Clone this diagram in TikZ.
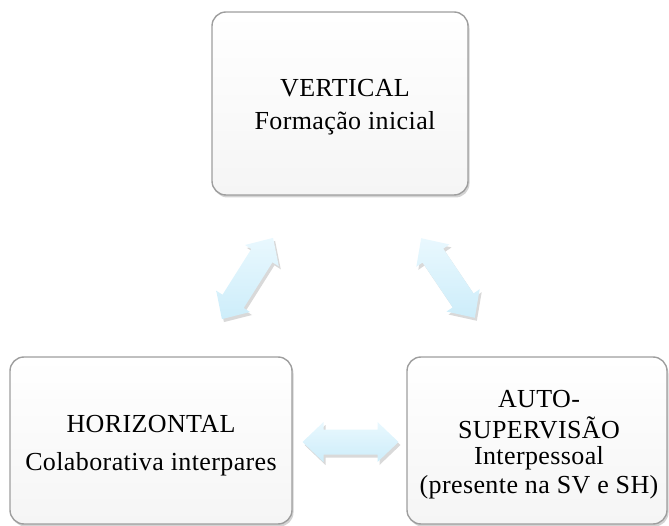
\documentclass[tikz,border=0pt]{standalone}
\usepackage{fontspec}
\setmainfont[LetterSpace=1.5]{Liberation Serif}
\usetikzlibrary{shadows}
\definecolor{boxgray}{HTML}{9E9E9E}
\definecolor{boxfill}{HTML}{F5F5F5}
\definecolor{arrtop}{HTML}{E9F8FE}
\definecolor{arrbot}{HTML}{CDEDFA}
\newcommand{\fatarrow}[3]{%
  \begin{scope}[shift={(#1)}, rotate=#2]
    \coordinate (#3) at (0,0);
    \path[fat] (-48,0) -- (-27,20) -- (-27,12.5) -- (27,12.5) -- (27,20) -- (48,0)
      -- (27,-20) -- (27,-12.5) -- (-27,-12.5) -- (-27,-20) -- cycle;
  \end{scope}}
\begin{document}
\begin{tikzpicture}[x=1pt,y=-1pt,
  box/.style={draw=boxgray, line width=1.4pt, rounded corners=14pt,
    top color=white, bottom color=boxfill, inner sep=0pt,
    drop shadow={opacity=0.35, shadow xshift=1.5pt, shadow yshift=-2.5pt}},
  lbl/.style={font=\fontsize{26}{30}\selectfont, align=center, text=black, inner sep=0pt},
  fat/.style={draw=none, top color=arrtop, bottom color=arrbot,
    drop shadow={opacity=0.3, shadow xshift=2pt, shadow yshift=-3pt}}]
\useasboundingbox (0,0) rectangle (669,526);
% boxes
\node[box, minimum width=256pt, minimum height=183pt] (v) at (340,103.5) {};
\node[box, minimum width=282pt, minimum height=167pt] (h) at (151,440.5) {};
\node[box, minimum width=260pt, minimum height=167pt] (a) at (537,440.5) {};
% texts
\node[lbl] (vt) at (345,107) {VERTICAL\\[3pt]Formação inicial};
\node[lbl] (ht) at (151,446) {HORIZONTAL\\[8pt]Colaborativa interpares};
\node[lbl] (at) at (539,445) {AUTO-\\[1pt]SUPERVISÃO\\[-4pt]Interpessoal\\[-1pt](presente na SV e SH)};
% arrows
\fatarrow{247.5,278.5}{57.8}{avh}
\fatarrow{448,278}{-56}{ava}
\fatarrow{350.5,442}{0}{aha}
\end{tikzpicture}
\end{document}
